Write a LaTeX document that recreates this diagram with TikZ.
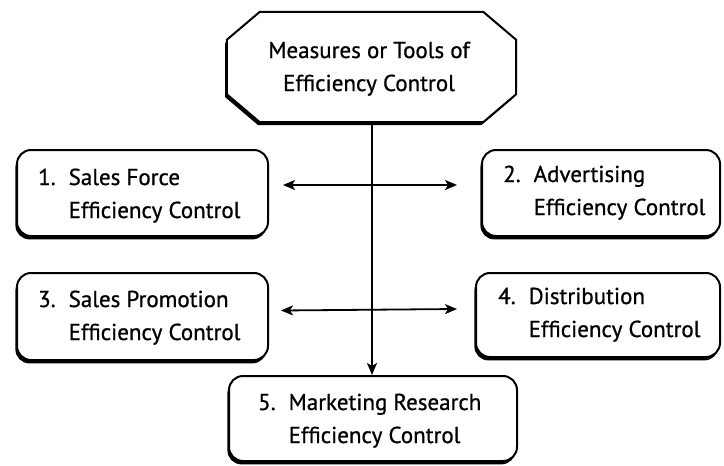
\documentclass[tikz,border=0pt]{standalone}
\usepackage{fontspec}
\setmainfont{PT Sans}
\newfontfamily\lblfont{PT Sans}[FakeBold=0.8]
\usetikzlibrary{shadows,arrows.meta,calc}
\newcommand{\numitem}[3]{\begin{tabular}[t]{@{}l@{\hspace{13pt}}l@{}}#1 & #2\\ & #3\end{tabular}}
\begin{document}
\begin{tikzpicture}[x=1pt,y=-1pt,
  every node/.style={font=\lblfont\fontsize{23}{33}\selectfont},
  box/.style={draw=black, line width=2pt, rounded corners=14pt, fill=white,
    inner sep=0pt,
    drop shadow={shadow xshift=-1.6pt, shadow yshift=-3.4pt, fill=black, opacity=1}},
  lbl/.style={anchor=base west, inner sep=0pt},
  tip/.style={Stealth[length=12pt,width=10pt,inset=3pt]},
  link/.style={line width=1.8pt, {Stealth[length=12pt,width=10pt,inset=3pt]}-{Stealth[length=12pt,width=10pt,inset=3pt]}},
  down/.style={line width=1.8pt, -{Stealth[length=12pt,width=10pt,inset=3pt]}}]
\useasboundingbox (0,0) rectangle (724,466);
\fill[white] (0,0) rectangle (724,466);

% heading frame (octagon)
\node[minimum width=289pt, minimum height=110pt, inner sep=0pt] (top) at (371.5,67) {};
\fill[black] ([shift={(-1.6,3.4)}]top.north west) ++(0,28) -- ++(33,-28) -- ++(223,0) -- ++(33,28)
  -- ++(0,54) -- ++(-33,28) -- ++(-223,0) -- ++(-33,-28) -- cycle;
\draw[line width=2pt, fill=white] ($(top.north west)+(0,28)$) -- ($(top.north west)+(33,0)$)
  -- ($(top.north east)+(-33,0)$) -- ($(top.north east)+(0,28)$)
  -- ($(top.south east)+(0,-28)$) -- ($(top.south east)+(-33,0)$)
  -- ($(top.south west)+(33,0)$) -- ($(top.south west)+(0,-28)$) -- cycle;
\node[inner sep=0pt, anchor=base] (toptext) at (369,58)
  {\begin{tabular}[t]{@{}c@{}}Measures or Tools of\\Efficiency Control\end{tabular}};

% the five control boxes
\node[box, minimum width=251pt, minimum height=86pt] (b1) at (142.5,193) {};
\node[box, minimum width=238pt, minimum height=86pt] (b2) at (601,193) {};
\node[box, minimum width=251pt, minimum height=87pt] (b3) at (142.5,316.5) {};
\node[box, minimum width=244pt, minimum height=84pt] (b4) at (598,315) {};
\node[box, minimum width=288pt, minimum height=85pt] (b5) at (373,418.5) {};

\node[lbl] (t1) at (38,185) {\numitem{1.}{Sales Force}{Efficiency Control}};
\node[lbl] (t2) at (503,182) {\numitem{2.}{Advertising}{Efficiency Control}};
\node[lbl] (t3) at (38,307) {\numitem{3.}{Sales Promotion}{Efficiency Control}};
\node[lbl] (t4) at (498,304) {\numitem{4.}{Distribution}{Efficiency Control}};
\node[lbl] (t5) at (258,410) {\numitem{5.}{Marketing Research}{Efficiency Control}};

% connectors
\draw[down] (top.south -| 372,0) -- (b5.north -| 372,0);
\coordinate (a1) at ($(b1.east)+(14,-8)$);
\coordinate (a2) at ($(b2.west)+(-24,-8)$);
\draw[link] (a1) -- (a2);
\coordinate (a3) at ($(b3.east)+(12,-6)$);
\coordinate (a4) at ($(b4.west)+(-18,-6)$);
\draw[link] (a3) -- (a4);
\end{tikzpicture}
\end{document}
